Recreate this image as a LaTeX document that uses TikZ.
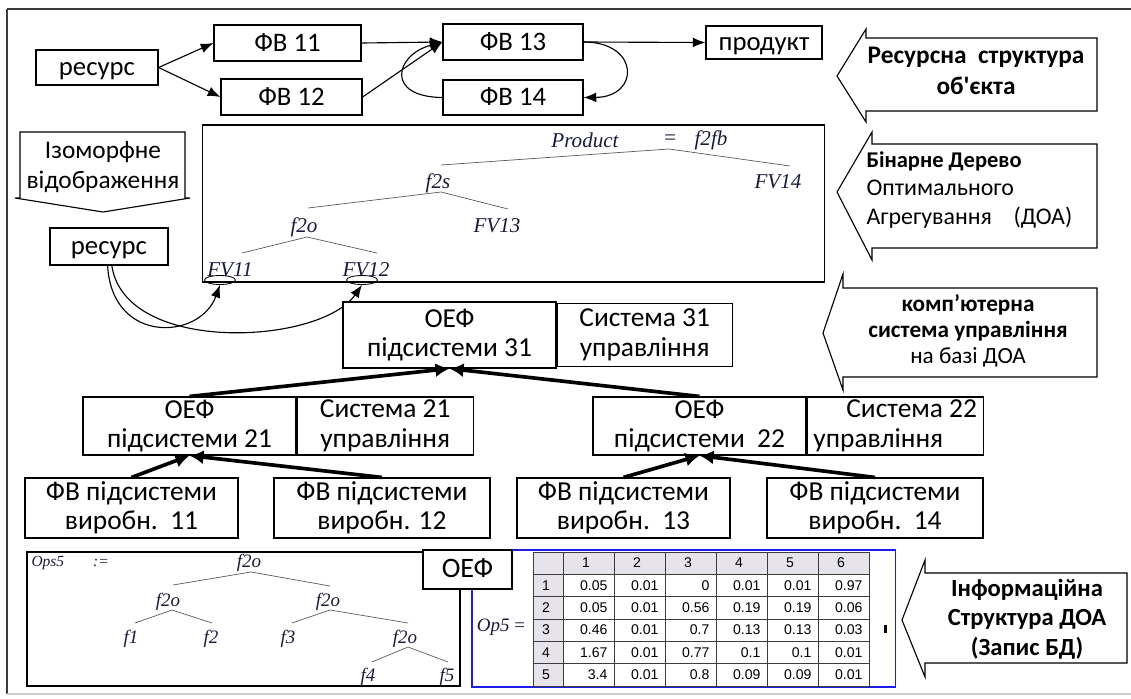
\documentclass[tikz,border=0pt]{standalone}
\usepackage{fontspec}
\setmainfont{Carlito}
\newfontfamily\serifit{Liberation Serif}
\newfontfamily\tablefont{Liberation Sans}
\usepackage{tikz}
\usetikzlibrary{arrows,arrows.meta,calc}
\usetikzlibrary{positioning,shapes}
\definecolor{hdrgray}{RGB}{230,228,234}
\definecolor{framegray}{RGB}{60,60,60}
\definecolor{tabblue}{RGB}{30,30,235}
\definecolor{treeink}{RGB}{25,25,60}
\definecolor{branchgray}{RGB}{90,90,90}
\tikzstyle{box}=[rectangle, draw, fill=white, text=black, align=center,
		inner sep=1pt, font=\fontsize{19.5}{21}\selectfont]
\tikzstyle{sbox}=[box, text height=13pt, text depth=1pt,
		font=\fontsize{19}{21}\selectfont]
\tikzstyle{bigarrow}=[draw, fill=white, line width=0.8pt]
\tikzstyle{arrowtext}=[align=center, inner sep=0pt,
		font=\fontsize{17.5}{21}\selectfont\bfseries]
\tikzstyle{tree}=[inner sep=0pt, text=treeink,
		font=\fontsize{15}{17}\selectfont\serifit\itshape]
\tikzstyle{stree}=[tree, font=\fontsize{13.5}{16}\selectfont\serifit\itshape]
\tikzstyle{ttree}=[tree, font=\fontsize{11}{13}\selectfont\serifit\itshape]
\tikzstyle{branch}=[-, branchgray, line width=0.5pt]
\tikzstyle{flow}=[->, >={Latex[length=9pt,width=7pt]}, line width=0.8pt]
\tikzstyle{fat}=[->, >={Latex[length=10pt,width=10pt]}, line width=2.6pt]
\tikzstyle{tabline}=[-, framegray, line width=0.5pt]
\tikzstyle{tabtext}=[inner sep=0pt, font=\fontsize{10}{12}\selectfont\tablefont]

\begin{document}
\begin{tikzpicture}[x=0.025cm,y=-0.025cm,line width=0.8pt]
    \useasboundingbox (0,0) rectangle (1131,698);

    % frame
    \draw[framegray, line width=2pt] (7,9) -- (1131,9);
    \draw[framegray, line width=1pt] (7,9) -- (7,694);
    \draw[gray!40, line width=1pt] (7,694) -- (1131,694);

    % resource structure
    \node (res) at (97,67.5) [sbox, minimum width=3.05cm, minimum height=0.875cm] {ресурс};
    \node (fv11) at (287.5,43) [sbox, minimum width=3.675cm, minimum height=0.9cm] {ФВ 11};
    \node (fv12) at (291.5,97) [sbox, minimum width=3.525cm, minimum height=0.9cm] {ФВ 12};
    \node (fv13) at (513,42) [sbox, minimum width=3.5cm, minimum height=0.9cm] {ФВ 13};
    \node (fv14) at (513,97.5) [sbox, minimum width=3.5cm, minimum height=0.875cm] {ФВ 14};
    \node (prod) at (764,42.5) [sbox, minimum width=2.9cm, minimum height=0.825cm] {продукт};

    \draw[flow] (res.east) -- (fv11.west);
    \draw[flow] (res.east) -- (fv12.west);
    \draw[flow] (fv11.east) -- (fv13.west);
    \draw[flow] (fv12.east) -- (fv13.west);
    \draw[flow] (fv14.west) .. controls (385,97) and (395,55) .. (fv13.west);
    \draw[flow] (fv13.east) .. controls (640,42) and (640,97) .. (fv14.east);
    \draw[flow] (fv13.east) -- (prod.west);

    % block arrows
    \draw[bigarrow] (837,76) -- (866,29) -- (866,38) -- (1097,38) -- (1097,111)
        -- (866,111) -- (866,122) -- cycle;
    \node (resstr) at (976,71) [arrowtext, font=\fontsize{18}{22}\selectfont\bfseries]
        {Ресурсна~~структура\\об\textquotesingle єкта};

    \draw[bigarrow] (837,192) -- (872,132) -- (872,144) -- (1097,144) -- (1097,248)
        -- (872,248) -- (872,260) -- cycle;
    \node (bdoa) at (866,190) [anchor=west, align=left, inner sep=0pt,
        font=\fontsize{17}{20.5}\selectfont]
        {{\fontsize{16}{20.5}\selectfont\textbf{Бінарне Дерево}}\\Оптимального\\Агрегування~~~~(ДОА)};

    \draw[bigarrow] (823,333) -- (843,274) -- (843,288) -- (1097,288) -- (1097,377)
        -- (843,377) -- (843,390) -- cycle;
    \node (kcs) at (968,331) [arrowtext, font=\fontsize{16.5}{18.5}\selectfont\bfseries]
        {комп’ютерна\\система управління\\\mdseries на базі ДОА};

    \draw[bigarrow] (20,132) -- (185,132) -- (185,198) -- (190,198) -- (103,212)
        -- (15,198) -- (20,198) -- cycle;
    \node (izo) at (103,167) [align=center, inner sep=0pt,
        font=\fontsize{18}{21.5}\selectfont] {Ізоморфне\\відображення};

    \draw[bigarrow] (902,620) -- (925,560) -- (925,573) -- (1127,573) -- (1127,663)
        -- (925,663) -- (925,677) -- cycle;
    \node (info) at (1027,619) [arrowtext] {Інформаційна\\Структура ДОА\\(Запис БД)};

    % binary tree
    \node (doa) at (513.5,203.5) [draw, minimum width=15.525cm, minimum height=3.925cm] {};
    \node (prodl) at (585,140) [tree] {Product};
    \node (eq) at (670,140) [tree] {=};
    \node (f2fb) at (711,140) [tree] {f2fb};
    \node (fv14t) at (778,182) [tree] {FV14};
    \node (f2s) at (438,183) [tree] {f2s};
    \node (fv13t) at (497,226) [tree] {FV13};
    \node (f2ot) at (304,227) [tree] {f2o};
    \node (fv11t) at (230,270) [tree] {FV11};
    \node (fv12t) at (366,270) [tree] {FV12};
    \draw[branch] ([shift={(3,-18)}]f2s.center) -- ([shift={(-1,9)}]eq.center)
        -- ([shift={(12,-16)}]fv14t.center);
    \draw[branch] ([shift={(4,-19)}]f2ot.center) -- ([shift={(3,9)}]f2s.center)
        -- ([shift={(11,-17)}]fv13t.center);
    \draw[branch] ([shift={(12,-17)}]fv11t.center) -- ([shift={(3,10)}]f2ot.center)
        -- ([shift={(11,-17)}]fv12t.center);
    \node (e11) at (220,280) [ellipse, draw, line width=0.6pt, inner sep=0pt,
        minimum width=0.775cm, minimum height=0.225cm] {};
    \node (e12) at (362,280) [ellipse, draw, line width=0.6pt, inner sep=0pt,
        minimum width=0.775cm, minimum height=0.225cm] {};

    \node (res2) at (109,246.5) [sbox, minimum width=2.95cm, minimum height=0.925cm] {ресурс};
    \draw[flow] ([xshift=-1pt]res2.south) .. controls (112,345) and (200,340) .. (e11.south);
    \draw[flow] ([xshift=2pt]res2.south) .. controls (125,355) and (320,345) .. (e12.south);

    % control system
    \node (oef31) at (449.5,335) [box, minimum width=5.325cm, minimum height=1.65cm]
        {ОЕФ\\підсистеми 31};
    \node (sys31) [box, right=0pt of oef31, minimum width=4.375cm, minimum height=1.575cm]
        {Система 31\\управління};
    \node (oef21) at (189.5,426) [box, minimum width=5.325cm, minimum height=1.45cm]
        {ОЕФ\\підсистеми 21};
    \node (sys21) [box, right=0pt of oef21, minimum width=4.4cm, minimum height=1.45cm]
        {Система 21\\управління};
    \node (oef22) at (699.5,426) [box, minimum width=5.325cm, minimum height=1.45cm]
        {ОЕФ\\підсистеми~~22};
    \node (sys22) [box, right=0pt of oef22, align=left, minimum width=4.4cm,
        minimum height=1.45cm] {\hspace*{1.2em}Система 22\\управління};

    \node (fvs11) at (131.5,508) [box, minimum width=5.325cm, minimum height=1.5cm]
        {ФВ підсистеми\\виробн.~~11};
    \node (fvs12) at (382,508) [box, minimum width=5.4cm, minimum height=1.5cm]
        {ФВ підсистеми\\виробн. 12};
    \node (fvs13) at (623.5,508) [box, minimum width=5.325cm, minimum height=1.5cm]
        {ФВ підсистеми\\виробн.~~13};
    \node (fvs14) at (875,508) [box, minimum width=5.4cm, minimum height=1.5cm]
        {ФВ підсистеми\\виробн.~~14};

    \draw[fat] (oef21.north) -- (oef31.south);
    \draw[fat] (oef22.north) -- (oef31.south);
    \draw[fat] (fvs11.north) -- (oef21.south);
    \draw[fat] (fvs12.north) -- (oef21.south);
    \draw[fat] (fvs13.north) -- (oef22.south);
    \draw[fat] (fvs14.north) -- (oef22.south);

    % information structure
    \node (opstree) at (243.5,619) [draw, minimum width=10.825cm, minimum height=3.35cm] {};
    \node (opsbox) at (683.5,618.5) [draw=tabblue, minimum width=10.575cm,
        minimum height=3.425cm] {};
    \node (oefb) at (467.5,569.5) [sbox, minimum width=2.225cm, minimum height=0.975cm,
        font=\fontsize{20}{21}\selectfont] {ОЕФ};

    \node (ops) at (31,563) [ttree, anchor=west] {Ops5};
    \node (assign) at (101,563) [ttree] {:=};
    \node (r0) at (249,563) [stree] {f2o};
    \node (a) at (168,602) [stree] {f2o};
    \node (b) at (328,602) [stree] {f2o};
    \node (f1) at (131,639) [stree] {f1};
    \node (f2) at (211,639) [stree] {f2};
    \node (f3) at (288,639) [stree] {f3};
    \node (c) at (405,639) [stree] {f2o};
    \node (f4) at (368,677) [stree] {f4};
    \node (f5) at (447,677) [stree] {f5};
    \draw[branch] ([shift={(5,-17)}]a.center) -- ([shift={(2,9)}]r0.center)
        -- ([shift={(2,-16)}]b.center);
    \draw[branch] ([shift={(4,-16)}]f1.center) -- ([shift={(4,8)}]a.center)
        -- ([shift={(1,-16)}]f2.center);
    \draw[branch] ([shift={(4,-16)}]f3.center) -- ([shift={(2,8)}]b.center)
        -- ([shift={(3,-16)}]c.center);
    \draw[branch] ([shift={(4,-15)}]f4.center) -- ([shift={(3,8)}]c.center)
        -- ([shift={(1,-15)}]f5.center);

    \node (op5) at (501,627) [stree] {Op5 {\upshape=}};
    \fill[hdrgray] (533,552) rectangle (869,574.3);
    \fill[hdrgray] (533,552) rectangle (563,686);
    \foreach \i in {0,...,6}
        \draw[tabline] (533,552+22.33*\i) -- (869,552+22.33*\i);
    \foreach \x in {533,563,614,665,716,767,818,869}
        \draw[tabline] (\x,552) -- (\x,686);
    \foreach \c in {1,...,6}
        \node (h\c) at (563+51*\c-28,563) [tabtext] {\c};
    \foreach \r/\vals in {1/{0.05,0.01,0,0.01,0.01,0.97},
                          2/{0.05,0.01,0.56,0.19,0.19,0.06},
                          3/{0.46,0.01,0.7,0.13,0.13,0.03},
                          4/{1.67,0.01,0.77,0.1,0.1,0.01},
                          5/{3.4,0.01,0.8,0.09,0.09,0.01}}{
        \node (r\r) at (546,563+22.33*\r) [tabtext] {\r};
        \foreach \v [count=\c] in \vals
            \node (v\r\c) at (563+51*\c-6,563+22.33*\r) [tabtext, anchor=east] {\v};
    }
    \fill (884,625) rectangle (887,633);

\end{tikzpicture}
\end{document}
